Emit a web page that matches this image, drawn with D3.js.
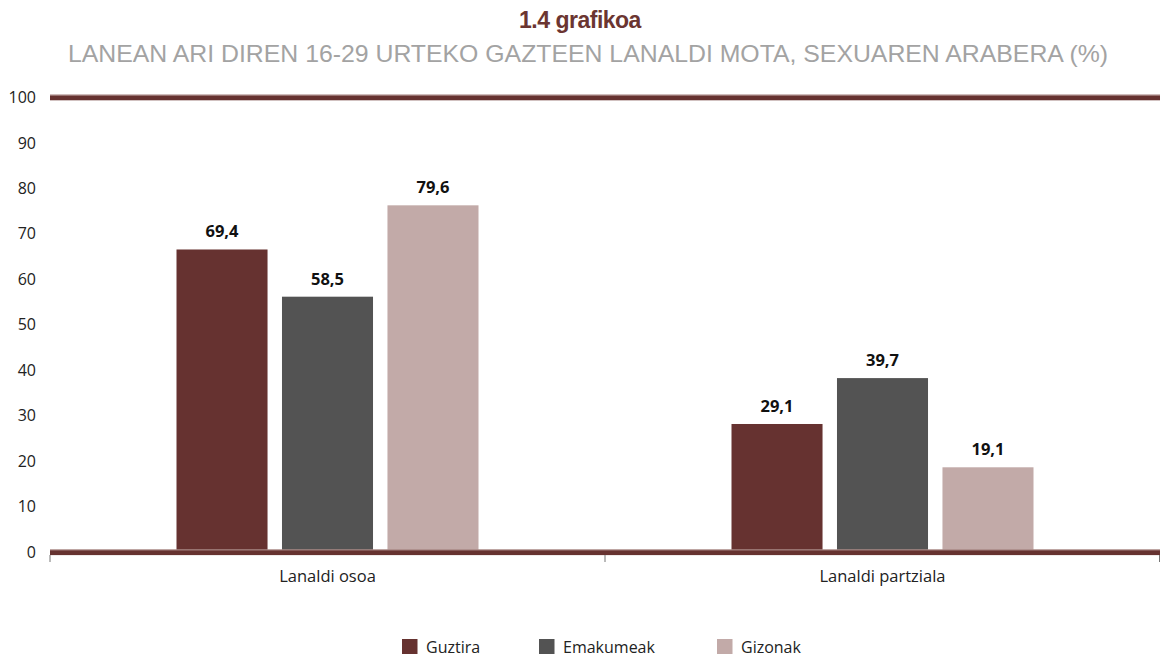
<!DOCTYPE html>
<html><head><meta charset="utf-8">
<script src="https://cdn.jsdelivr.net/npm/d3@7"></script>
<style>
body{margin:0;background:#fff;}
svg{display:block;}
</style></head>
<body>
<svg id="c" width="1160" height="658"></svg>
<script>
const categories = ["Lanaldi osoa", "Lanaldi partziala"];
const seriesNames = ["Guztira", "Emakumeak", "Gizonak"];
const guztira = [69.4, 29.1];
const emakumeak = [58.5, 39.7];
const gizonak = [79.6, 19.1];
const yTicks = [0, 10, 20, 30, 40, 50, 60, 70, 80, 90, 100];
const colors = ["#663230", "#535353", "#c2aaa8"];
const title = "1.4 grafikoa";
const subtitle = "LANEAN ARI DIREN 16-29 URTEKO GAZTEEN LANALDI MOTA, SEXUAREN ARABERA (%)";

const series = [guztira, emakumeak, gizonak];
const svg = d3.select("#c");
const font = "'Open Sans', 'Noto Sans', sans-serif";

const x0 = d3.scaleBand().domain(categories).range([50, 1160]).paddingInner(0).paddingOuter(0);
const x1 = d3.scaleBand().domain(seriesNames).range([0, 302]).paddingInner(0.137).paddingOuter(0);
const yAxis = d3.scaleLinear().domain([0, 100]).range([552, 97.5]);
const yBar = d3.scaleLinear().domain([0, 104.5]).range([550, 97.5]);

// title
svg.append("text").attr("x", 580).attr("y", 28).attr("text-anchor", "middle")
  .attr("font-family", "'Liberation Sans', Arial, sans-serif").attr("font-weight", "bold")
  .attr("font-size", 23).attr("fill", "#6b3531").attr("letter-spacing", "-0.5").text(title);
svg.append("text").attr("x", 588).attr("y", 62).attr("text-anchor", "middle")
  .attr("font-family", "'Liberation Sans', Arial, sans-serif")
  .attr("font-size", 24).attr("fill", "#a3a3a3")
  .attr("textLength", 1040).attr("lengthAdjust", "spacingAndGlyphs").text(subtitle);

// y tick labels
svg.append("g").selectAll("text").data(yTicks).join("text")
  .attr("x", 36).attr("y", d => yAxis(d)).attr("dy", "0.35em")
  .attr("text-anchor", "end").attr("font-family", font).attr("font-size", 16)
  .attr("fill", "#222").text(d => d);

// bars
const groups = svg.append("g").selectAll("g").data(categories).join("g")
  .attr("transform", c => `translate(${x0(c) + (x0.bandwidth() - x1.range()[1]) / 2},0)`);
groups.selectAll("rect").data((c, i) => seriesNames.map((s, j) => ({s, v: series[j][i], j})))
  .join("rect")
  .attr("x", d => x1(d.s)).attr("width", x1.bandwidth())
  .attr("y", d => yBar(d.v)).attr("height", d => yBar(0) - yBar(d.v))
  .attr("fill", d => colors[d.j]);
groups.selectAll("text").data((c, i) => seriesNames.map((s, j) => ({s, v: series[j][i], j})))
  .join("text")
  .attr("x", d => x1(d.s) + x1.bandwidth() / 2).attr("y", d => yBar(d.v) - 12)
  .attr("text-anchor", "middle").attr("font-family", font).attr("font-weight", "bold")
  .attr("font-size", 16.5).attr("fill", "#111")
  .text(d => d3.format(".1f")(d.v).replace(".", ","));

// thick lines at 0 and 100
[0, 100].forEach(v => {
  const yy = v === 0 ? 552.3 : yAxis(v);
  svg.append("rect").attr("x", 50).attr("width", 1110).attr("y", yy - 2.8).attr("height", 5.6).attr("fill", "#663230");
  svg.append("rect").attr("x", 50).attr("width", 1110).attr("y", yy - 2.8).attr("height", 0.8).attr("fill", "#c9b3b0");
});

// x axis ticks
const tickX = [50, 605, 1159.5];
svg.append("g").selectAll("line").data(tickX).join("line")
  .attr("x1", d => d).attr("x2", d => d).attr("y1", 555).attr("y2", 562)
  .attr("stroke", "#777").attr("stroke-width", 1);

// category labels
svg.append("g").selectAll("text").data(categories).join("text")
  .attr("x", c => x0(c) + x0.bandwidth() / 2).attr("y", 582)
  .attr("text-anchor", "middle").attr("font-family", font).attr("font-size", 16.5)
  .attr("fill", "#222").text(c => c);

// legend
const legendX = [402, 539, 717];
const lg = svg.append("g").selectAll("g").data(seriesNames).join("g")
  .attr("transform", (d, i) => `translate(${legendX[i]},639)`);
lg.append("rect").attr("width", 15.5).attr("height", 15).attr("fill", (d, i) => colors[i]);
lg.append("text").attr("x", 24).attr("y", 14).attr("font-family", font).attr("font-size", 16)
  .attr("fill", "#222").text(d => d);
</script>
</body></html>
